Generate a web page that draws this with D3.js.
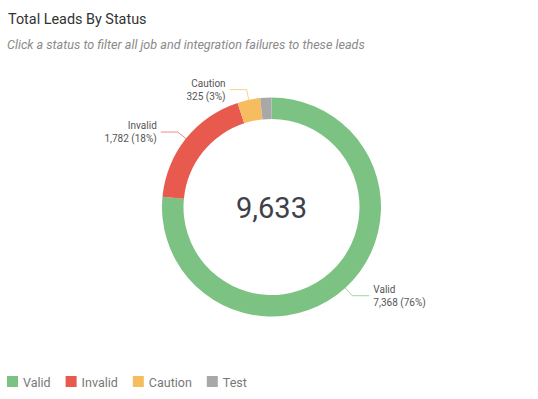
<!DOCTYPE html>
<html>
<head>
<meta charset="utf-8" />
<script src="https://d3js.org/d3.v7.min.js"></script>
<style>
  body { margin: 0; background: #fff; font-family: Roboto, "Noto Sans", sans-serif; }
</style>
</head>
<body>
<svg id="chart"></svg>
<script>
// data
var statuses = ["Valid", "Invalid", "Caution", "Test"];
var counts = [7368, 1782, 325, 158];
var colors = ["#7cc283", "#e8594e", "#f6bd60", "#a8a8a8"];
var labelled = ["Valid", "Invalid", "Caution"];   // Test gets no callout

var width = 538, height = 399;
var cx = 271.5, cy = 207;
var outerR = 109.5, innerR = 88;

var svg = d3.select("#chart").attr("width", width).attr("height", height);

svg.append("text")
  .attr("x", 8).attr("y", 24)
  .attr("font-size", 14.4).attr("fill", "#333")
  .text("Total Leads By Status");

svg.append("text")
  .attr("x", 7).attr("y", 49)
  .attr("font-size", 12.6).attr("font-style", "italic").attr("fill", "#8a8a8a")
  .text("Click a status to filter all job and integration failures to these leads");

var total = d3.sum(counts);
var data = statuses.map(function(s, i) { return { status: s, count: counts[i], color: colors[i] }; });

var pie = d3.pie().sort(null).value(function(d) { return d.count; });
var arc = d3.arc().innerRadius(innerR).outerRadius(outerR);
var arcs = pie(data);

var g = svg.append("g").attr("transform", "translate(" + cx + "," + cy + ")");

g.selectAll("path.slice")
  .data(arcs)
  .enter().append("path")
  .attr("class", "slice")
  .attr("d", arc)
  .attr("fill", function(d) { return d.data.color; });

// center total
g.append("text")
  .attr("text-anchor", "middle")
  .attr("y", 10.5)
  .attr("font-size", 29)
  .attr("fill", "#3d4149")
  .text(d3.format(",")(total));

// callouts
var fmt = d3.format(",");
var elbowR = 120, run = 17;
arcs.filter(function(d) { return labelled.indexOf(d.data.status) >= 0; }).forEach(function(d) {
  var mid = (d.startAngle + d.endAngle) / 2;
  var sx = Math.sin(mid), sy = -Math.cos(mid);
  var p0 = [sx * outerR, sy * outerR];
  var p1 = [sx * elbowR, sy * elbowR];
  var dir = sx >= 0 ? 1 : -1;
  var p2 = [p1[0] + dir * run, p1[1]];
  g.append("polyline")
    .attr("points", [p0, p1, p2].map(function(p) { return p.join(","); }).join(" "))
    .attr("fill", "none")
    .attr("stroke", d.data.color)
    .attr("stroke-opacity", 0.7)
    .attr("stroke-width", 1);
  var t = g.append("text")
    .attr("text-anchor", dir > 0 ? "start" : "end")
    .attr("font-size", 10)
    .attr("fill", "#555");
  var tx = p2[0] + dir * 4;
  t.append("tspan").attr("x", tx).attr("y", p1[1] - 3).text(d.data.status);
  t.append("tspan").attr("x", tx).attr("y", p1[1] + 10)
    .text(fmt(d.data.count) + " (" + Math.round(d.data.count / total * 100) + "%)");
});

// legend
var legend = svg.append("g").attr("transform", "translate(7,376)");
var lx = 0;
data.forEach(function(d) {
  var item = legend.append("g").attr("transform", "translate(" + lx + ",0)");
  item.append("rect").attr("width", 11).attr("height", 11).attr("fill", d.color);
  var txt = item.append("text")
    .attr("x", 16).attr("y", 10.5)
    .attr("font-size", 12.5).attr("fill", "#777")
    .text(d.status);
  lx += 16 + txt.node().getComputedTextLength() + 15;
});
</script>
</body>
</html>
